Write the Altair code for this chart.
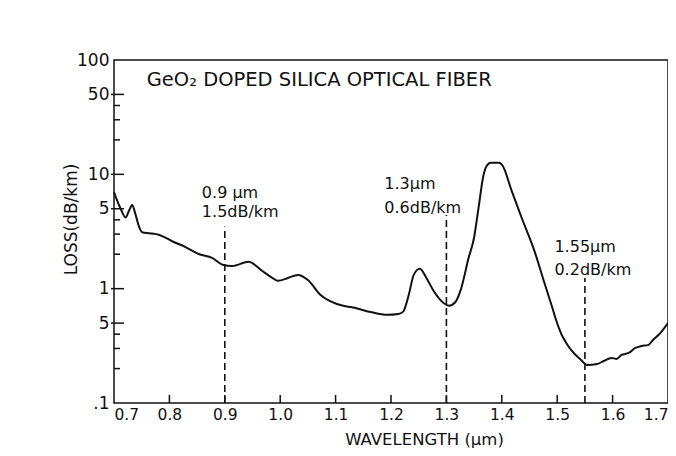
import altair as alt
import pandas as pd

# ---- data ----
wavelength = [0.700, 0.705, 0.712, 0.721, 0.727, 0.733, 0.738, 0.746, 0.752, 0.764,
              0.782, 0.805, 0.830, 0.854, 0.877, 0.896, 0.913, 0.943, 0.966, 0.985,
              0.996, 1.014, 1.032, 1.050, 1.073, 1.104, 1.134, 1.163, 1.193, 1.213,
              1.222, 1.232, 1.241, 1.252, 1.264, 1.277, 1.295, 1.305, 1.316, 1.326,
              1.340, 1.350, 1.358, 1.367, 1.374, 1.380, 1.395, 1.4005, 1.418, 1.436,
              1.459, 1.477, 1.4897, 1.4986, 1.5075, 1.5164, 1.525, 1.543, 1.554, 1.572,
              1.584, 1.598, 1.607, 1.616, 1.629, 1.641, 1.652, 1.664, 1.673, 1.686, 1.700]
loss = [7.0, 6.0, 5.0, 4.2, 4.8, 5.4, 4.6, 3.4, 3.1, 3.05,
        2.95, 2.6, 2.3, 2.0, 1.86, 1.62, 1.58, 1.72, 1.45, 1.25,
        1.17, 1.24, 1.32, 1.19, 0.88, 0.73, 0.68, 0.625, 0.59, 0.60,
        0.63, 0.88, 1.32, 1.49, 1.24, 0.955, 0.75, 0.71, 0.76, 0.98,
        1.85, 2.8, 5.08, 9.86, 12.1, 12.6, 12.6, 12.1, 7.14, 4.15,
        2.13, 1.12, 0.72, 0.521, 0.401, 0.335, 0.291, 0.238, 0.215, 0.219,
        0.233, 0.248, 0.243, 0.263, 0.274, 0.303, 0.315, 0.321, 0.356, 0.409, 0.501]

x_tick_labels = [0.7, 0.8, 0.9, 1.0, 1.1, 1.2, 1.3, 1.4, 1.5, 1.6, 1.7]
x_inner_ticks = [0.8, 0.9, 1.0, 1.1, 1.2, 1.3, 1.4, 1.5, 1.6]
y_tick_values = [0.1, 0.5, 1, 5, 10, 50, 100]
y_tick_labels = [".1", "5", "1", "5", "10", "50", "100"]
y_major_ticks = [0.5, 1, 5, 10, 50]
y_minor_ticks = [0.2, 0.3, 0.4, 2, 3, 4, 20, 30, 40]

marker_x = [0.9, 1.3, 1.55]
marker_top = [3.5, 4.4, 1.24]

ann_x = [0.8586, 0.8586, 1.188, 1.188, 1.495, 1.495]
ann_y = [6.25, 4.25, 7.4, 4.6, 2.08, 1.32]
ann_text = ["0.9 µm", "1.5dB/km", "1.3µm", "0.6dB/km", "1.55µm", "0.2dB/km"]

title_x = [0.759]
title_y = [59.3]
title_text = ["GeO₂ DOPED SILICA OPTICAL FIBER"]

# ---- tables ----
curve = pd.DataFrame({"wl": wavelength, "loss": loss})
markers = pd.DataFrame({"wl": marker_x, "lo": [0.1] * len(marker_x), "hi": marker_top})
ann = pd.DataFrame({"wl": ann_x, "loss": ann_y, "t": ann_text})
ttl = pd.DataFrame({"wl": title_x, "loss": title_y, "t": title_text})
xt = pd.DataFrame({"wl": x_inner_ticks})
ymaj = pd.DataFrame({"loss": y_major_ticks})
ymin = pd.DataFrame({"loss": y_minor_ticks})

FONT = "DejaVu Sans"
W, H = 554, 343
xs = alt.Scale(domain=[0.7, 1.7], nice=False, zero=False)
ys = alt.Scale(type="log", domain=[0.1, 100], nice=False)

expr = "''"
for v, lab in reversed(list(zip(y_tick_values, y_tick_labels))):
    expr = f"abs(datum.value - {v}) < {v * 1e-3} ? '{lab}' : {expr}"

x_axis = alt.Axis(
    values=x_tick_labels, format=".1f", labelFlush=True, domain=False, ticks=False,
    grid=False, labelFontSize=15.5, labelFont=FONT, labelColor="#111", labelPadding=4,
    title="WAVELENGTH (µm)", titleFont=FONT, titleFontSize=16.5, titleFontWeight="normal",
    titleColor="#111", titleX=310, titleY=36, titleBaseline="middle", titleAlign="center")
y_axis = alt.Axis(
    values=y_tick_values, labelExpr=expr, domain=False, ticks=False, grid=False,
    labelFontSize=17, labelFont=FONT, labelColor="#111", labelPadding=5,
    title="LOSS(dB/km)", titleFont=FONT, titleFontSize=17, titleFontWeight="normal",
    titleColor="#111", titleX=-43, titleY=159, titleAngle=270, titleBaseline="middle",
    titleAlign="center")

X = lambda f: alt.X(f, scale=xs, axis=x_axis)
Y = lambda f: alt.Y(f, scale=ys, axis=y_axis)

line = alt.Chart(curve).mark_line(color="#111111", strokeWidth=2, interpolate="monotone").encode(
    x=X("wl:Q"), y=Y("loss:Q"))

dash = alt.Chart(markers).mark_rule(color="#111", strokeWidth=1.6, strokeDash=[7, 4]).encode(
    x=X("wl:Q"), y=Y("lo:Q"), y2="hi:Q")

xticks = alt.Chart(xt).mark_rule(color="#111", strokeWidth=1.5).encode(
    x=X("wl:Q"), y=alt.value(H), y2=alt.value(H - 8))
ymajor = alt.Chart(ymaj).mark_rule(color="#111", strokeWidth=1.5).encode(
    y=Y("loss:Q"), x=alt.value(-3), x2=alt.value(10))
yminor = alt.Chart(ymin).mark_rule(color="#111", strokeWidth=1.5).encode(
    y=Y("loss:Q"), x=alt.value(0), x2=alt.value(6))

ann_text_layer = alt.Chart(ann).mark_text(
    align="left", baseline="alphabetic", font=FONT, fontSize=16, color="#111").encode(
    x=X("wl:Q"), y=Y("loss:Q"), text="t:N")

title_layer = alt.Chart(ttl).mark_text(
    align="left", baseline="alphabetic", font=FONT, fontSize=19.5, color="#111").encode(
    x=X("wl:Q"), y=Y("loss:Q"), text="t:N")

chart = alt.layer(line, dash, xticks, ymajor, yminor, ann_text_layer, title_layer).properties(
    width=W, height=H, autosize="none",
    padding={"left": 106, "top": 52, "right": 0, "bottom": 45},
    background="white",
).configure_view(stroke="#111", strokeWidth=1.5)

chart.save("out.html", embed_options={"renderer": "svg", "actions": False})
